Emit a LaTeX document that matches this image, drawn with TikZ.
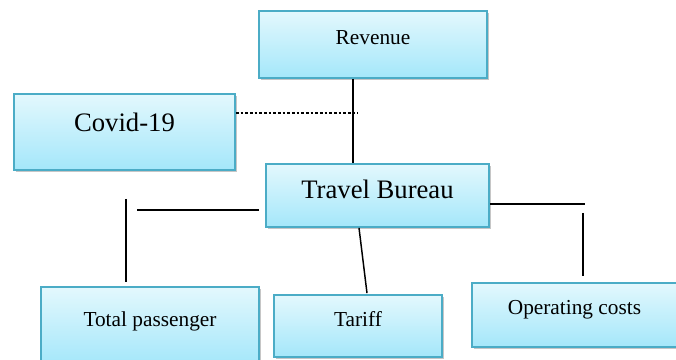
\documentclass[tikz,border=0pt]{standalone}
\usepackage{fontspec}
\setmainfont{Liberation Serif}
\usetikzlibrary{positioning, calc, shadows}
\definecolor{boxedge}{HTML}{4BACC6}
\definecolor{boxtop}{HTML}{E3F8FD}
\definecolor{boxbottom}{HTML}{A4E7FA}
\tikzset{
  block/.style={
    rectangle, draw=boxedge, line width=1.3pt, top color=boxtop, bottom color=boxbottom,
    drop shadow={shadow xshift=1.8pt, shadow yshift=-1.8pt, opacity=0.45},
    font=\fontsize{16}{19}\selectfont, inner sep=0pt, align=center,
    text height=0.75em, text depth=0.75em
  },
  bigblock/.style={block, font=\fontsize{20}{24}\selectfont},
  link/.style={draw=black, line width=1.1pt},
  dotlink/.style={draw=black, line width=2pt, dash pattern=on 2pt off 1.5pt},
}

\begin{document}
\begin{tikzpicture}[x=0.75pt, y=-0.75pt]
    \useasboundingbox (0,0) rectangle (676,360);
    \node[block, minimum width=171pt, minimum height=50.25pt] (rev) at (373,44.5) {Revenue};
    \node[bigblock, minimum width=165.75pt, minimum height=57pt] (covid) at (124.5,132) {Covid-19};
    \node[bigblock, minimum width=167.25pt, minimum height=47.25pt, text height=0.7em, text depth=0.2em] (tb) at (377.5,195.5) {Travel Bureau};
    \node[block, minimum width=163.5pt, minimum height=58.5pt] (pass) at (150,326) {Total passenger};
    \node[block, minimum width=126pt, minimum height=46.5pt] (tariff) at (358,326) {Tariff};
    \node[block, minimum width=153.75pt, minimum height=48pt] (ops) at (574.5,315) {Operating costs};

    % free ends of the broken connectors
    \coordinate (covidtie) at (358,113);
    \coordinate (lefttie) at (137,210);
    \coordinate (passtop) at (126,199);
    \coordinate (righttie) at (585,204);
    \coordinate (opstop) at (583,213);

    \draw[link] ($(rev.south)+(-20,0)$) -- ($(tb.north)+(-24.5,0)$);
    \draw[dotlink] (covid.east |- covidtie) -- (covidtie);
    \draw[link] ($(tb.west |- lefttie)+(-6,0)$) -- (lefttie);
    \draw[link] (passtop) -- ($(pass.north -| passtop)+(0,-4)$);
    \draw[link] ($(tb.south)+(-18.5,0)$) -- ($(tariff.north)+(9,-1)$);
    \draw[link] (tb.east |- righttie) -- (righttie);
    \draw[link] (opstop) -- ($(ops.north -| opstop)+(0,-6)$);
  \end{tikzpicture}
\end{document}
